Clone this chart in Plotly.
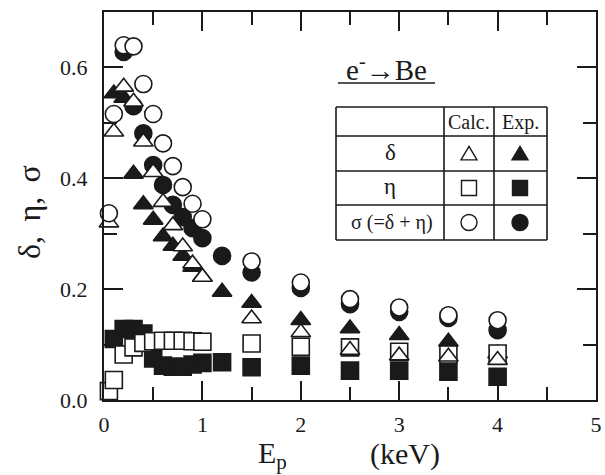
import plotly.graph_objects as go

# ---------------- data ----------------
calc_E = [0.05, 0.1, 0.2, 0.3, 0.4, 0.5, 0.6, 0.7, 0.8, 0.9, 1.0, 1.5, 2.0, 2.5, 3.0, 3.5, 4.0]
calc_delta = [0.320, 0.484, 0.565, 0.538, 0.466, 0.411, 0.357, 0.315, 0.277, 0.246, 0.222,
              0.147, 0.122, 0.090, 0.080, 0.078, 0.072]
calc_eta = [0.016, 0.036, 0.082, 0.095, 0.103, 0.106, 0.107, 0.107, 0.107, 0.106, 0.105,
            0.102, 0.096, 0.095, 0.087, 0.082, 0.084]
calc_sigma = [0.337, 0.516, 0.640, 0.638, 0.570, 0.516, 0.463, 0.422, 0.384, 0.354, 0.326,
              0.250, 0.212, 0.182, 0.167, 0.153, 0.144]

exp_E = [0.1, 0.2, 0.3, 0.4, 0.5, 0.6, 0.7, 0.8, 0.9, 1.0, 1.2, 1.5, 2.0, 2.5, 3.0, 3.5, 4.0]
exp_delta = [0.553, 0.545, 0.408, 0.353, 0.325, 0.295, 0.278, 0.260, 0.240, 0.222, 0.195,
             0.175, 0.144, 0.129, 0.117, 0.105, 0.084]
exp_eta = [0.110, 0.128, 0.128, 0.120, 0.075, 0.062, 0.060, 0.060, 0.064, 0.067, 0.068,
           0.059, 0.062, 0.053, 0.053, 0.051, 0.042]

exp_sigma_E = [0.2, 0.3, 0.4, 0.5, 0.6, 0.7, 0.8, 0.9, 1.0, 1.2, 1.5, 2.0, 2.5, 3.0, 3.5, 4.0]
exp_sigma = [0.628, 0.530, 0.481, 0.424, 0.388, 0.352, 0.330, 0.310, 0.292, 0.260,
             0.230, 0.202, 0.173, 0.159, 0.148, 0.126]

x_ticks = [0, 1, 2, 3, 4, 5]
y_ticks = [0.0, 0.2, 0.4, 0.6]

# ---------------- styling ----------------
INK = "#1a1a1a"
SERIF = "'Liberation Serif', 'Times New Roman', Times, 'DejaVu Serif', serif"
MS = 17

fig = go.Figure()

def add(xs, ys, symbol, filled):
    fig.add_trace(go.Scatter(
        x=xs, y=ys, mode="markers", showlegend=False, cliponaxis=False,
        marker=dict(symbol=symbol, size=MS,
                    color=INK if filled else "white",
                    line=dict(color=INK, width=1.6)),
    ))

add(exp_E, exp_eta, "square", True)
add(exp_E, exp_delta, "triangle-up", True)
add(exp_sigma_E, exp_sigma, "circle", True)
add(calc_E, calc_eta, "square", False)
add(calc_E, calc_delta, "triangle-up", False)
add(calc_E, calc_sigma, "circle", False)

# plot-area in pixels
L, R, T, B = 104, 596, 12, 400
W, H = R - L, B - T

def px(x):
    return (x - L) / W

def py(y):
    return (B - y) / H

shapes = []
def pline(x0, y0, x1, y1, w=1.6):
    shapes.append(dict(type="line", xref="paper", yref="paper",
                       x0=px(x0), y0=py(y0), x1=px(x1), y1=py(y1),
                       line=dict(color=INK, width=w)))

# legend table
tx0, tx1 = 336, 547
ty0, ty1 = 107, 240
cols = [444, 494]
rows = [136, 171, 205]
pline(tx0, ty0, tx1, ty0)
pline(tx0, ty1, tx1, ty1)
pline(tx0, ty0, tx0, ty1)
pline(tx1, ty0, tx1, ty1)
for c in cols:
    pline(c, ty0, c, ty1)
for r in rows:
    pline(tx0, r, tx1, r)

# underline of title
pline(338, 83, 435, 83, 1.5)

# legend symbols
cx_calc, cx_exp = 469, 520
ry = [153.5, 188, 222.5]
s = 8
def tri(cx, cy, filled):
    path = "M {} {} L {} {} L {} {} Z".format(
        px(cx - s), py(cy + s * 0.8), px(cx + s), py(cy + s * 0.8), px(cx), py(cy - s * 0.9))
    shapes.append(dict(type="path", xref="paper", yref="paper", path=path,
                       fillcolor=INK if filled else "white", line=dict(color=INK, width=1.4)))
def sq(cx, cy, filled):
    shapes.append(dict(type="rect", xref="paper", yref="paper",
                       x0=px(cx - 7.5), x1=px(cx + 7.5), y0=py(cy + 7.5), y1=py(cy - 7.5),
                       fillcolor=INK if filled else "white", line=dict(color=INK, width=1.4)))
def circ(cx, cy, filled):
    shapes.append(dict(type="circle", xref="paper", yref="paper",
                       x0=px(cx - 8), x1=px(cx + 8), y0=py(cy + 8), y1=py(cy - 8),
                       fillcolor=INK if filled else "white", line=dict(color=INK, width=1.4)))

tri(cx_calc, ry[0], False); tri(cx_exp, ry[0], True)
sq(cx_calc, ry[1], False); sq(cx_exp, ry[1], True)
circ(cx_calc, ry[2], False); circ(cx_exp, ry[2], True)

annotations = []
def txt(x, y, text, size, **kw):
    d = dict(x=px(x), y=py(y), xref="paper", yref="paper", text=text, showarrow=False,
             font=dict(family=SERIF, size=size, color=INK), xanchor="center", yanchor="middle")
    d.update(kw)
    annotations.append(d)

txt(469, 122, "Calc.", 20)
txt(520, 122, "Exp.", 20)
txt(390, 152, "δ", 23)
txt(390, 187, "η", 23)
txt(392, 222, "σ (=δ + η)", 20)
txt(386, 68, "e<sup>-</sup>→Be", 29)

# axis titles
txt(29, 212, "δ,\u2009 η,\u2009 σ", 32, textangle=-90)
txt(272, 455, "E<sub>p</sub>", 30)
txt(405, 454, "(keV)", 30)

fig.update_layout(shapes=shapes, annotations=annotations)

axis_common = dict(
    showline=True, linecolor=INK, linewidth=2, mirror="ticks",
    ticks="inside", tickcolor=INK, tickwidth=1.8, ticklen=19,
    showgrid=False, zeroline=False,
    tickfont=dict(family=SERIF, size=22, color=INK),
)

fig.update_xaxes(range=[0, 5], tickvals=x_ticks, ticktext=[str(v) for v in x_ticks],
                 minor=dict(ticks="inside", ticklen=13, tickwidth=1.6, tickcolor=INK,
                            dtick=0.5, tick0=0, showgrid=False),
                 ticklabelstandoff=4, **axis_common)
fig.update_yaxes(range=[0, 0.7], tickvals=y_ticks, ticktext=["%.1f" % v for v in y_ticks],
                 minor=dict(ticks="inside", ticklen=13, tickwidth=1.6, tickcolor=INK,
                            dtick=0.1, tick0=0, showgrid=False),
                 ticklabelstandoff=10, **axis_common)

fig.update_layout(
    width=605, height=475,
    margin=dict(l=L, r=605 - R, t=T, b=475 - B, autoexpand=False),
    paper_bgcolor="white", plot_bgcolor="white",
    font=dict(family=SERIF, color=INK),
)

fig.write_html("out.html")
